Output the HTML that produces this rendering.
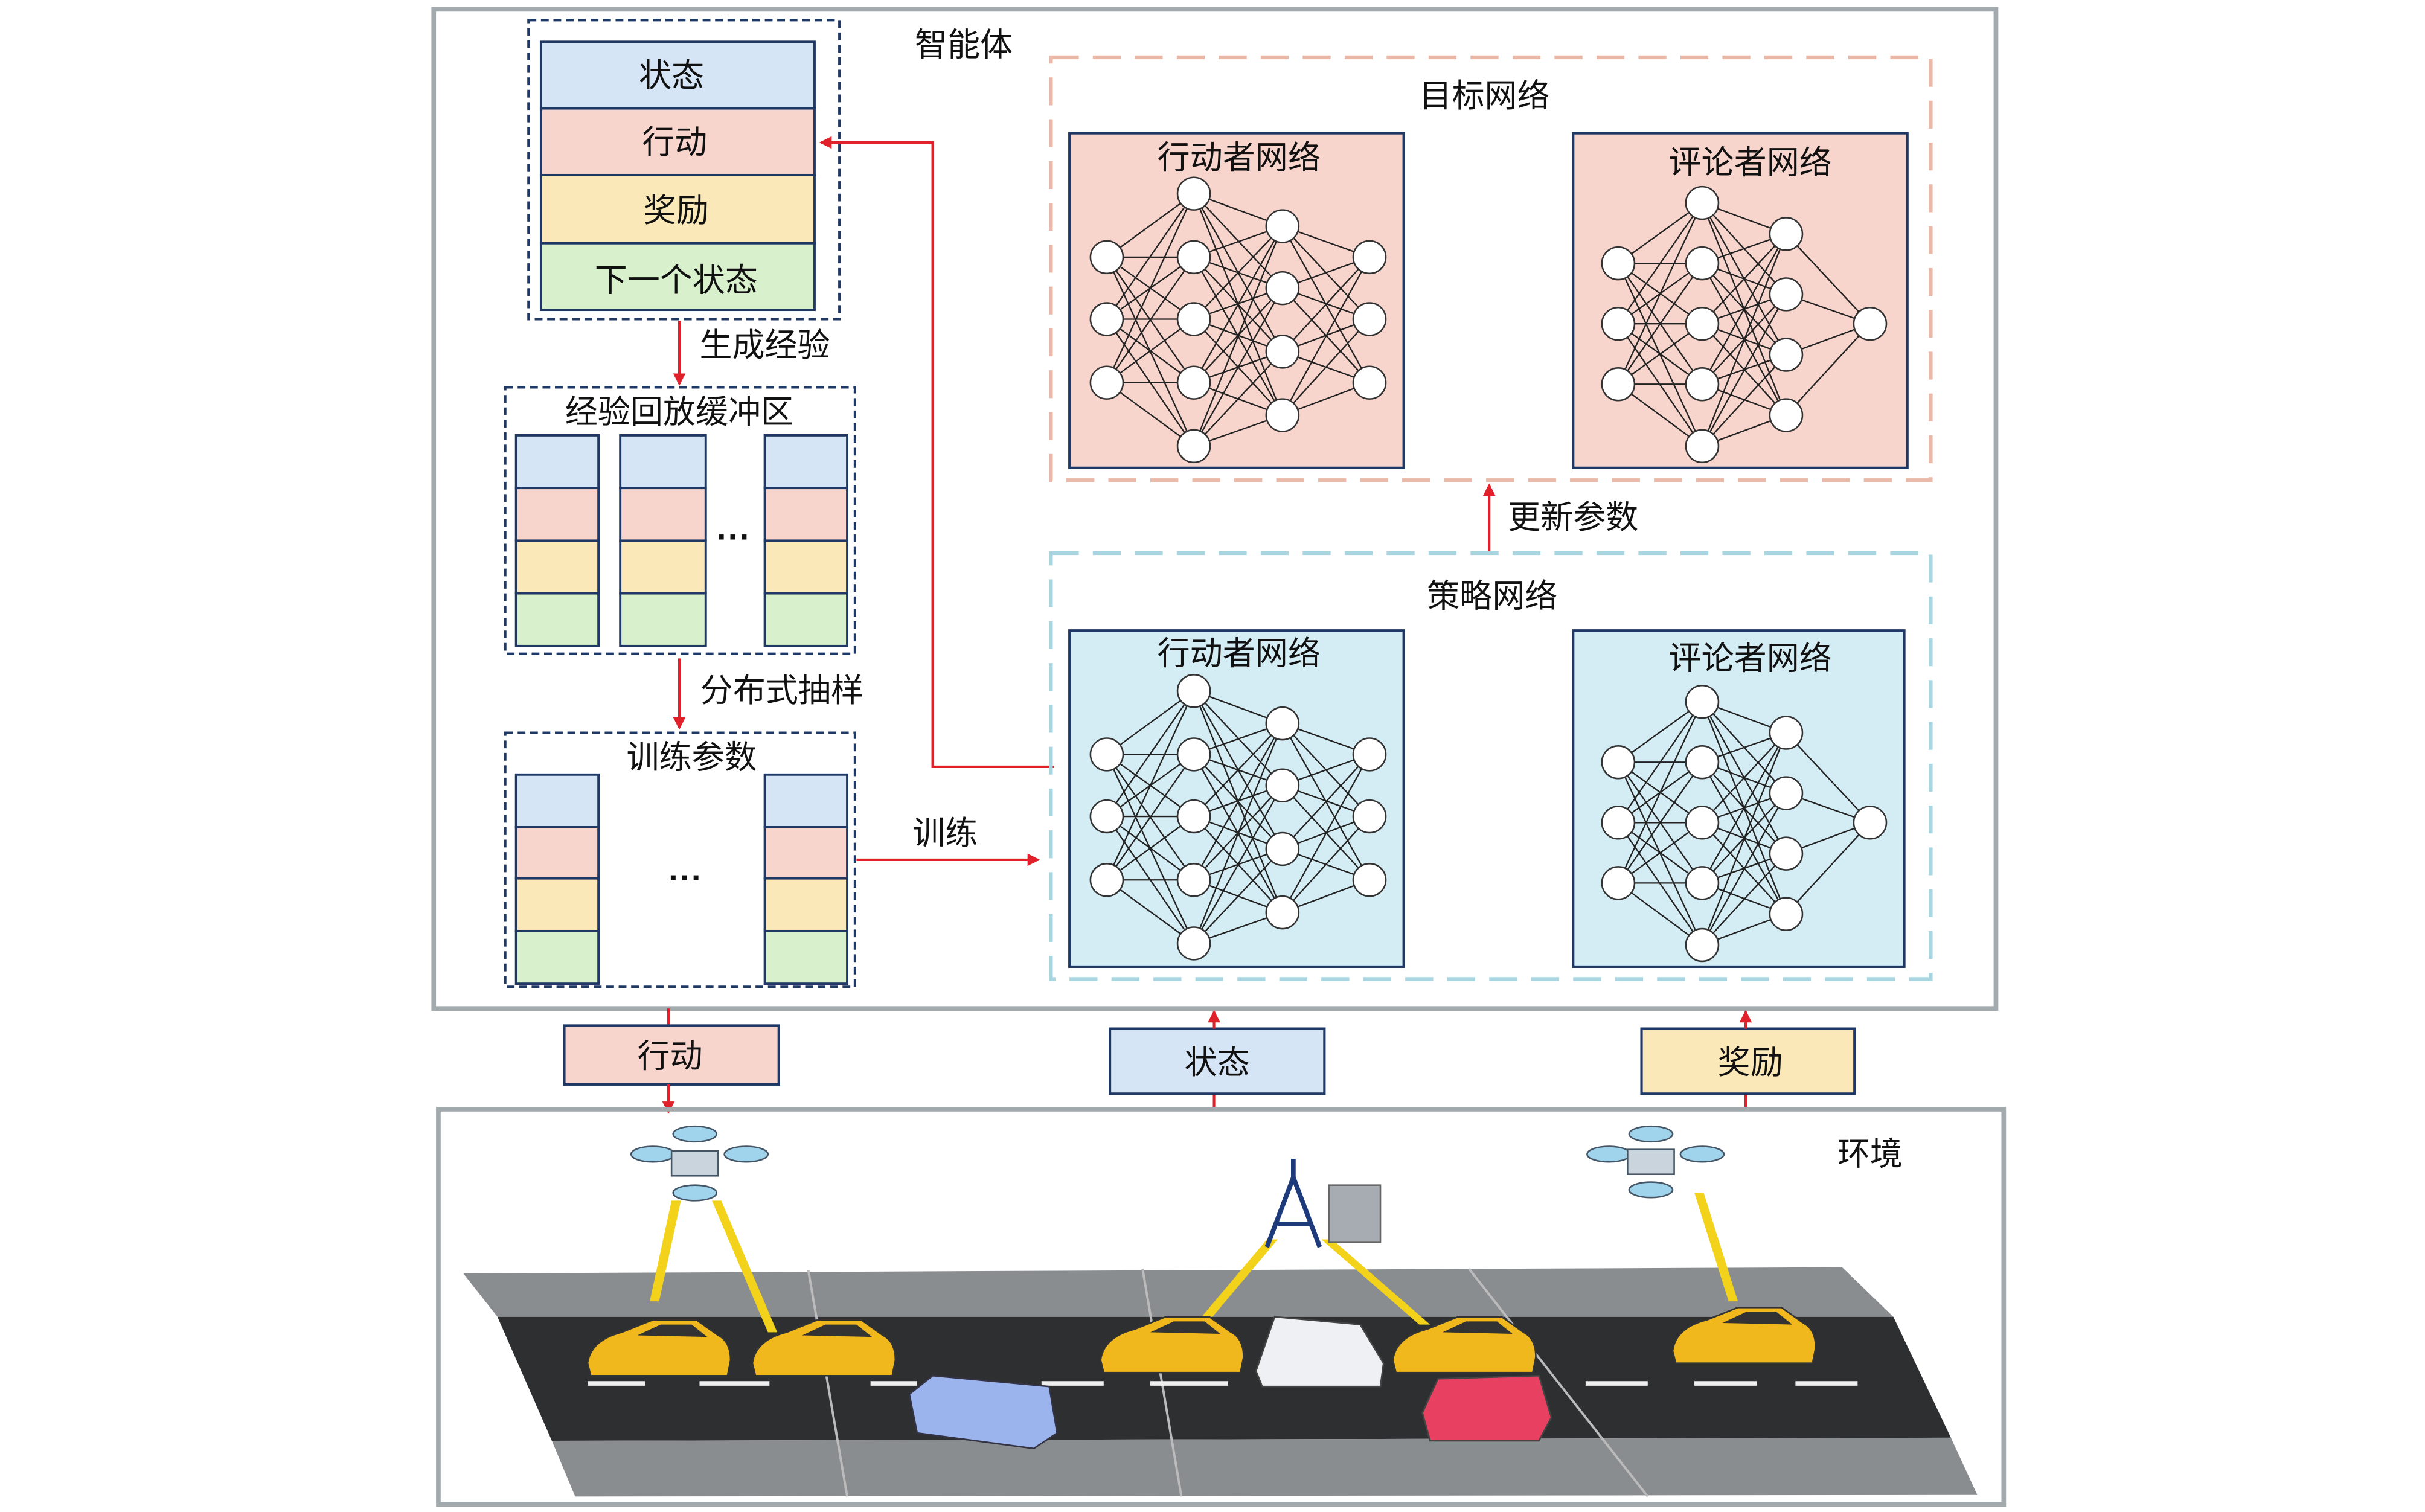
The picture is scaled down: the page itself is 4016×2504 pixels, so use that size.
<!DOCTYPE html>
<html><head><meta charset="utf-8">
<style>
html,body{margin:0;padding:0;background:#fff;}
svg{display:block;}
text{font-family:"Liberation Sans","Noto Sans CJK SC",sans-serif;fill:#111;}
</style></head><body>
<svg width="4016" height="2504" viewBox="0 0 1560 976" preserveAspectRatio="none" xmlns="http://www.w3.org/2000/svg">
<defs>
<marker id="ar" markerWidth="8" markerHeight="8" refX="7" refY="4" orient="auto" markerUnits="userSpaceOnUse"><path d="M0,0 L8,4 L0,8 z" fill="#e0202a"/></marker>
<g id="actor" stroke="#222" stroke-width="0.9">
</g>
</defs>
<rect x="0" y="0" width="1560" height="976" fill="#fff"/>
<!-- agent box -->
<rect x="279" y="6" width="1005" height="645" fill="none" stroke="#a2aaae" stroke-width="3"/>
<text x="620" y="36" font-size="21" text-anchor="middle">智能体</text>

<!-- experience -->
<rect x="340" y="13" width="200" height="193" fill="none" stroke="#1f3864" stroke-width="1.6" stroke-dasharray="5,3"/>
<g stroke="#1f3864" stroke-width="1.5">
<rect x="348" y="27" width="176" height="43" fill="#d5e5f5"/>
<rect x="348" y="70" width="176" height="43" fill="#f7d5cc"/>
<rect x="348" y="113" width="176" height="44" fill="#fae8b8"/>
<rect x="348" y="157" width="176" height="43" fill="#d8f1cc"/>
</g>
<g font-size="21" text-anchor="middle">
<text x="432" y="56">状态</text><text x="434" y="99">行动</text><text x="435" y="143">奖励</text><text x="435" y="188">下一个状态</text>
</g>
<line x1="437" y1="207" x2="437" y2="248" stroke="#e0202a" stroke-width="1.6" marker-end="url(#ar)"/>
<text x="492" y="230" font-size="21" text-anchor="middle">生成经验</text>

<!-- replay buffer -->
<rect x="325" y="250" width="225" height="172" fill="none" stroke="#1f3864" stroke-width="1.6" stroke-dasharray="5,3"/>
<text x="437" y="273" font-size="21" text-anchor="middle">经验回放缓冲区</text>
<g stroke="#1f3864" stroke-width="1.5">
<rect x="332" y="281" width="53" height="34" fill="#d5e5f5"/><rect x="332" y="315" width="53" height="34" fill="#f7d5cc"/><rect x="332" y="349" width="53" height="34" fill="#fae8b8"/><rect x="332" y="383" width="53" height="34" fill="#d8f1cc"/>
<rect x="399" y="281" width="55" height="34" fill="#d5e5f5"/><rect x="399" y="315" width="55" height="34" fill="#f7d5cc"/><rect x="399" y="349" width="55" height="34" fill="#fae8b8"/><rect x="399" y="383" width="55" height="34" fill="#d8f1cc"/>
<rect x="492" y="281" width="53" height="34" fill="#d5e5f5"/><rect x="492" y="315" width="53" height="34" fill="#f7d5cc"/><rect x="492" y="349" width="53" height="34" fill="#fae8b8"/><rect x="492" y="383" width="53" height="34" fill="#d8f1cc"/>
</g>
<text x="472" y="354" font-size="22" text-anchor="middle" font-weight="bold">···</text>
<line x1="437" y1="425" x2="437" y2="470" stroke="#e0202a" stroke-width="1.6" marker-end="url(#ar)"/>
<text x="503" y="453" font-size="21" text-anchor="middle">分布式抽样</text>

<!-- training -->
<rect x="325" y="473" width="225" height="164" fill="none" stroke="#1f3864" stroke-width="1.6" stroke-dasharray="5,3"/>
<text x="445" y="496" font-size="21" text-anchor="middle">训练参数</text>
<g stroke="#1f3864" stroke-width="1.5">
<rect x="332" y="500" width="53" height="34" fill="#d5e5f5"/><rect x="332" y="534" width="53" height="33" fill="#f7d5cc"/><rect x="332" y="567" width="53" height="34" fill="#fae8b8"/><rect x="332" y="601" width="53" height="34" fill="#d8f1cc"/>
<rect x="492" y="500" width="53" height="34" fill="#d5e5f5"/><rect x="492" y="534" width="53" height="33" fill="#f7d5cc"/><rect x="492" y="567" width="53" height="34" fill="#fae8b8"/><rect x="492" y="601" width="53" height="34" fill="#d8f1cc"/>
</g>
<text x="441" y="574" font-size="22" text-anchor="middle" font-weight="bold">···</text>
<line x1="551" y1="555" x2="668" y2="555" stroke="#e0202a" stroke-width="1.6" marker-end="url(#ar)"/>
<text x="608" y="545" font-size="21" text-anchor="middle">训练</text>
<polyline points="678,495 600,495 600,92 528,92" fill="none" stroke="#e0202a" stroke-width="1.6" marker-end="url(#ar)"/>

<!-- target network -->
<rect x="676" y="37" width="566" height="273" fill="none" stroke="#e8b8a8" stroke-width="2.5" stroke-dasharray="18,9"/>
<text x="955" y="69" font-size="21" text-anchor="middle">目标网络</text>
<rect x="688" y="86" width="215" height="216" fill="#f8d5cc" stroke="#1f3864" stroke-width="1.6"/>
<rect x="1012" y="86" width="215" height="216" fill="#f8d5cc" stroke="#1f3864" stroke-width="1.6"/>
<text x="797" y="109" font-size="21" text-anchor="middle">行动者网络</text>
<text x="1126" y="112" font-size="21" text-anchor="middle">评论者网络</text>
<line x1="958" y1="358" x2="958" y2="313" stroke="#e0202a" stroke-width="1.6" marker-end="url(#ar)"/>
<text x="1012" y="341" font-size="21" text-anchor="middle">更新参数</text>

<!-- policy network -->
<rect x="676" y="357" width="566" height="275" fill="none" stroke="#a8d5e0" stroke-width="2.5" stroke-dasharray="18,9"/>
<text x="960" y="392" font-size="21" text-anchor="middle">策略网络</text>
<rect x="688" y="407" width="215" height="217" fill="#d4ecf4" stroke="#1f3864" stroke-width="1.6"/>
<rect x="1012" y="407" width="213" height="217" fill="#d4ecf4" stroke="#1f3864" stroke-width="1.6"/>
<text x="797" y="429" font-size="21" text-anchor="middle">行动者网络</text>
<text x="1126" y="432" font-size="21" text-anchor="middle">评论者网络</text>

<g id="nets" stroke="#222" stroke-width="0.9"></g>

<!-- bottom boxes -->
<line x1="430" y1="651" x2="430" y2="662" stroke="#e0202a" stroke-width="1.6"/>
<rect x="363" y="662" width="138" height="38" fill="#f7d5cc" stroke="#1f3864" stroke-width="1.6"/>
<text x="431" y="689" font-size="21" text-anchor="middle">行动</text>
<line x1="430" y1="700" x2="430" y2="718" stroke="#e0202a" stroke-width="1.6" marker-end="url(#ar)"/>
<line x1="781" y1="716" x2="781" y2="706" stroke="#e0202a" stroke-width="1.6"/>
<rect x="714" y="664" width="138" height="42" fill="#d5e5f5" stroke="#1f3864" stroke-width="1.6"/>
<text x="783" y="693" font-size="21" text-anchor="middle">状态</text>
<line x1="781" y1="664" x2="781" y2="653" stroke="#e0202a" stroke-width="1.6" marker-end="url(#ar)"/>
<line x1="1123" y1="716" x2="1123" y2="706" stroke="#e0202a" stroke-width="1.6"/>
<rect x="1056" y="664" width="137" height="42" fill="#fae8b8" stroke="#1f3864" stroke-width="1.6"/>
<text x="1126" y="693" font-size="21" text-anchor="middle">奖励</text>
<line x1="1123" y1="664" x2="1123" y2="653" stroke="#e0202a" stroke-width="1.6" marker-end="url(#ar)"/>

<!-- environment -->
<rect x="282" y="716" width="1007" height="255" fill="none" stroke="#a2aaae" stroke-width="3"/>
<text x="1203" y="752" font-size="21" text-anchor="middle">环境</text>
<!-- road -->
<polygon points="298,822 1185,818 1218,850 320,850" fill="#8a8d8f"/>
<polygon points="320,850 1218,850 1255,928 355,930" fill="#2e2f31"/>
<polygon points="355,930 1255,928 1272,965 370,966" fill="#8a8d8f"/>
<g stroke="#bbb" stroke-width="1.5">
<line x1="520" y1="820" x2="545" y2="966"/><line x1="735" y1="819" x2="760" y2="966"/><line x1="945" y1="819" x2="1060" y2="966"/>
</g>
<g stroke="#eee" stroke-width="3">
<line x1="378" y1="893" x2="415" y2="893"/><line x1="450" y1="893" x2="495" y2="893"/><line x1="560" y1="893" x2="590" y2="893"/><line x1="670" y1="893" x2="710" y2="893"/><line x1="740" y1="893" x2="790" y2="893"/><line x1="1020" y1="893" x2="1060" y2="893"/><line x1="1090" y1="893" x2="1130" y2="893"/><line x1="1155" y1="893" x2="1195" y2="893"/>
</g>
<!-- lightning -->
<g fill="#f2d21a">
<polygon points="432,775 438,775 424,840 418,840"/>
<polygon points="458,775 464,775 500,860 494,860"/>
<polygon points="1090,770 1096,770 1118,840 1112,840"/>
<polygon points="815,800 822,800 780,850 773,850"/>
<polygon points="850,800 857,800 920,855 913,855"/>
</g>
<!-- drones -->
<g fill="#9fd4ec" stroke="#456" stroke-width="1">
<ellipse cx="420" cy="745" rx="14" ry="5"/><ellipse cx="480" cy="745" rx="14" ry="5"/><ellipse cx="447" cy="732" rx="14" ry="5"/><ellipse cx="447" cy="770" rx="14" ry="5"/>
<rect x="432" y="743" width="30" height="16" fill="#c9d4dc"/>
<ellipse cx="1035" cy="745" rx="14" ry="5"/><ellipse cx="1095" cy="745" rx="14" ry="5"/><ellipse cx="1062" cy="732" rx="14" ry="5"/><ellipse cx="1062" cy="768" rx="14" ry="5"/>
<rect x="1047" y="742" width="30" height="16" fill="#c9d4dc"/>
</g>
<!-- tower -->
<g stroke="#1d3a7a" stroke-width="3" fill="none">
<polyline points="815,805 832,760 849,805"/><line x1="822" y1="790" x2="843" y2="790"/><line x1="832" y1="748" x2="832" y2="760"/>
</g>
<rect x="855" y="765" width="33" height="37" fill="#a7acb2" stroke="#666"/>
<!-- cars -->
<g fill="#f0b81c" stroke="#333" stroke-width="1">
<path d="M378,880 Q380,865 400,860 L420,852 L448,852 L462,862 Q470,866 470,878 L468,888 L380,888 Z"/>
<path d="M484,880 Q486,865 506,860 L526,852 L554,852 L568,862 Q576,866 576,878 L574,888 L486,888 Z"/>
<path d="M708,878 Q710,863 730,858 L750,850 L778,850 L792,860 Q800,864 800,876 L798,886 L710,886 Z"/>
<path d="M896,878 Q898,863 918,858 L938,850 L966,850 L980,860 Q988,864 988,876 L986,886 L898,886 Z"/>
<path d="M1076,872 Q1078,857 1098,852 L1118,844 L1146,844 L1160,854 Q1168,858 1168,870 L1166,880 L1078,880 Z"/>
</g>
<g fill="#333">
<path d="M410,862 L425,855 L445,855 L455,863 Z"/><path d="M516,862 L531,855 L551,855 L561,863 Z"/><path d="M740,860 L755,853 L775,853 L785,861 Z"/><path d="M928,860 L943,853 L963,853 L973,861 Z"/><path d="M1108,854 L1123,847 L1143,847 L1153,855 Z"/>
</g>
<!-- bus and ambulances -->
<polygon points="585,900 600,888 675,895 680,925 665,935 590,925" fill="#9bb4ee" stroke="#334" stroke-width="1"/>
<polygon points="808,885 820,850 875,855 890,880 888,895 812,895" fill="#eef0f4" stroke="#444" stroke-width="1"/>
<polygon points="915,912 925,890 990,888 998,915 990,930 920,930" fill="#e84060" stroke="#444" stroke-width="1"/>
</svg>
<script>
(function(){
var ns="http://www.w3.org/2000/svg";
var g=document.getElementById("nets");
function net(xs,cols,dy){
  var layers=cols.map(function(c,i){return c.map(function(y){return [xs[i],y+dy];});});
  for(var i=0;i<layers.length-1;i++){
    layers[i].forEach(function(a){layers[i+1].forEach(function(b){
      var l=document.createElementNS(ns,"line");
      l.setAttribute("x1",a[0]);l.setAttribute("y1",a[1]);l.setAttribute("x2",b[0]);l.setAttribute("y2",b[1]);
      g.appendChild(l);});});
  }
  layers.forEach(function(L){L.forEach(function(p){
    var c=document.createElementNS(ns,"circle");
    c.setAttribute("cx",p[0]);c.setAttribute("cy",p[1]);c.setAttribute("r",10.5);
    c.setAttribute("fill","#fff");c.setAttribute("stroke","#333");c.setAttribute("stroke-width","1");
    g.appendChild(c);});});
}
var ax=[712,768,825,881], ac=[[166,206,247],[125,166,206,247,288],[146,186,227,268],[166,206,247]];
var cx=[1041,1095,1149,1203], cc=[[170,209,248],[131,170,209,248,288],[151,190,229,268],[209]];
net(ax,ac,0);net(cx,cc,0);net(ax,ac,321);net(cx,cc,322);
})();
</script>
</body></html>
